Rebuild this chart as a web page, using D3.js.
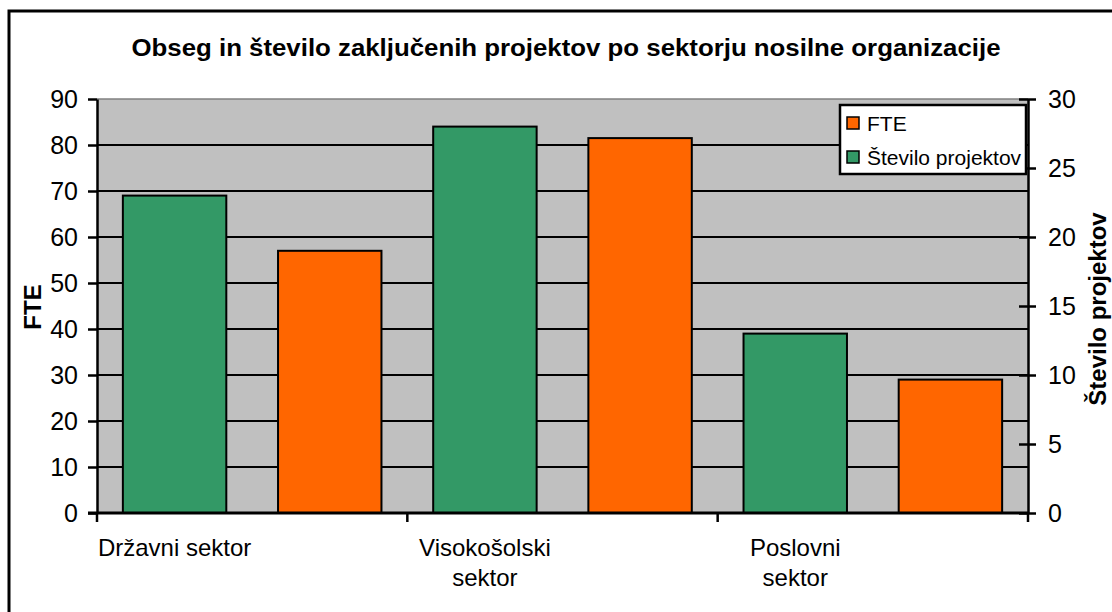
<!DOCTYPE html>
<html><head><meta charset="utf-8">
<script src="https://cdn.jsdelivr.net/npm/d3@7"></script>
<style>html,body{margin:0;padding:0;background:#fff;}svg{display:block;font-family:"Liberation Sans",Arial,sans-serif;}</style>
</head><body>
<script>
const categories = [["Državni sektor"], ["Visokošolski", "sektor"], ["Poslovni", "sektor"]];
const categoryKeys = ["Državni sektor", "Visokošolski sektor", "Poslovni sektor"];
const fteValues = [57, 81.5, 29];
const projectValues = [23, 28, 13];
const leftTicks = [0, 10, 20, 30, 40, 50, 60, 70, 80, 90];
const rightTicks = [0, 5, 10, 15, 20, 25, 30];
const seriesNames = ["FTE", "Število projektov"];
const seriesColors = ["#FF6600", "#339966"];

const W = 1112, H = 612;
const svg = d3.select("body").append("svg").attr("width", W).attr("height", H);
svg.append("rect").attr("width", W).attr("height", H).attr("fill", "#fff");

// outer frame (clipped at right/bottom)
svg.append("rect").attr("x", 9).attr("y", 11).attr("width", 1300).attr("height", 800)
  .attr("fill", "none").attr("stroke", "#000").attr("stroke-width", 3);

const plot = {left: 97, right: 1028, top: 99, bottom: 513};
const x0 = d3.scaleBand().domain(categoryKeys).range([plot.left, plot.right]).padding(0);
const x1 = d3.scaleBand().domain(["proj", "fte"]).range([0, x0.bandwidth()]).paddingInner(1/3).paddingOuter(1/6);
const yL = d3.scaleLinear().domain([0, 90]).range([plot.bottom, plot.top]);
const yR = d3.scaleLinear().domain([0, 30]).range([plot.bottom, plot.top]);

// plot background
svg.append("rect").attr("x", plot.left).attr("y", plot.top)
  .attr("width", plot.right - plot.left).attr("height", plot.bottom - plot.top)
  .attr("fill", "#C0C0C0");
svg.append("line").attr("x1", plot.left).attr("x2", plot.right).attr("y1", plot.top).attr("y2", plot.top)
  .attr("stroke", "#808080").attr("stroke-width", 1.5);

// gridlines
svg.append("g").selectAll("line").data(leftTicks.filter(d => d > 0 && d < 90)).join("line")
  .attr("x1", plot.left).attr("x2", plot.right)
  .attr("y1", d => yL(d)).attr("y2", d => yL(d))
  .attr("stroke", "#000").attr("stroke-width", 2);

// bars
const bars = svg.append("g");
categoryKeys.forEach((c, i) => {
  bars.append("rect")
    .attr("x", x0(c) + x1("proj")).attr("width", x1.bandwidth())
    .attr("y", yR(projectValues[i])).attr("height", yR(0) - yR(projectValues[i]))
    .attr("fill", seriesColors[1]).attr("stroke", "#000").attr("stroke-width", 2);
  bars.append("rect")
    .attr("x", x0(c) + x1("fte")).attr("width", x1.bandwidth())
    .attr("y", yL(fteValues[i])).attr("height", yL(0) - yL(fteValues[i]))
    .attr("fill", seriesColors[0]).attr("stroke", "#000").attr("stroke-width", 2);
});

// left axis
const gL = svg.append("g").attr("transform", `translate(${plot.left},0)`)
  .call(d3.axisLeft(yL).tickValues(leftTicks).tickSize(9).tickPadding(10).tickSizeOuter(0));
gL.select(".domain").attr("stroke", "#000").attr("stroke-width", 2.5);
gL.selectAll(".tick line").attr("stroke", "#000").attr("stroke-width", 2.5);
gL.selectAll("text").attr("font-size", 25).attr("fill", "#000").attr("font-family", "Liberation Sans, Arial, sans-serif");

// right axis
const gR = svg.append("g").attr("transform", `translate(${plot.right},0)`)
  .call(d3.axisRight(yR).tickValues(rightTicks).tickSize(8).tickPadding(12).tickSizeOuter(0));
gR.select(".domain").attr("stroke", "#000").attr("stroke-width", 2.5);
gR.selectAll(".tick line").attr("x1", -9).attr("x2", 8).attr("stroke", "#000").attr("stroke-width", 2.5);
gR.selectAll("text").attr("font-size", 25).attr("fill", "#000").attr("font-family", "Liberation Sans, Arial, sans-serif");

// bottom axis
const boundaries = [plot.left, ...categoryKeys.map(c => x0(c) + x0.bandwidth())];
const gB = svg.append("g");
gB.append("line").attr("x1", plot.left - 9).attr("x2", plot.right).attr("y1", plot.bottom).attr("y2", plot.bottom)
  .attr("stroke", "#000").attr("stroke-width", 3);
gB.selectAll(".bt").data(boundaries).join("line").attr("class", "bt")
  .attr("x1", d => d).attr("x2", d => d).attr("y1", plot.bottom).attr("y2", plot.bottom + 9)
  .attr("stroke", "#000").attr("stroke-width", 2.5);
categories.forEach((lines, i) => {
  const cx = x0(categoryKeys[i]) + x1("proj") + x1.bandwidth() / 2;
  const t = gB.append("text").attr("text-anchor", "middle").attr("font-size", 24).attr("fill", "#000");
  lines.forEach((ln, j) => t.append("tspan").attr("x", cx).attr("y", 556 + j * 30).text(ln));
});

// title
svg.append("text").attr("x", 566).attr("y", 56).attr("text-anchor", "middle")
  .attr("font-size", 23).attr("font-weight", "bold").attr("fill", "#000")
  .attr("textLength", 869).attr("lengthAdjust", "spacingAndGlyphs")
  .text("Obseg in število zaključenih projektov po sektorju nosilne organizacije");

// axis titles
svg.append("text").attr("transform", `translate(41,307) rotate(-90)`).attr("text-anchor", "middle")
  .attr("font-size", 24).attr("font-weight", "bold").attr("fill", "#000").text("FTE");
svg.append("text").attr("transform", `translate(1106,309) rotate(-90)`).attr("text-anchor", "middle")
  .attr("font-size", 24).attr("font-weight", "bold").attr("fill", "#000").text("Število projektov");

// legend
const lg = svg.append("g");
lg.append("rect").attr("x", 840).attr("y", 105).attr("width", 186).attr("height", 69)
  .attr("fill", "#fff").attr("stroke", "#000").attr("stroke-width", 2.5);
seriesNames.forEach((n, i) => {
  const cy = 123 + i * 34;
  lg.append("rect").attr("x", 847).attr("y", cy - 6).attr("width", 12).attr("height", 12)
    .attr("fill", seriesColors[i]).attr("stroke", "#000").attr("stroke-width", 1.5);
  lg.append("text").attr("x", 867).attr("y", cy + 7.5).attr("font-size", 21).attr("fill", "#000").text(n);
});
</script>
</body></html>
